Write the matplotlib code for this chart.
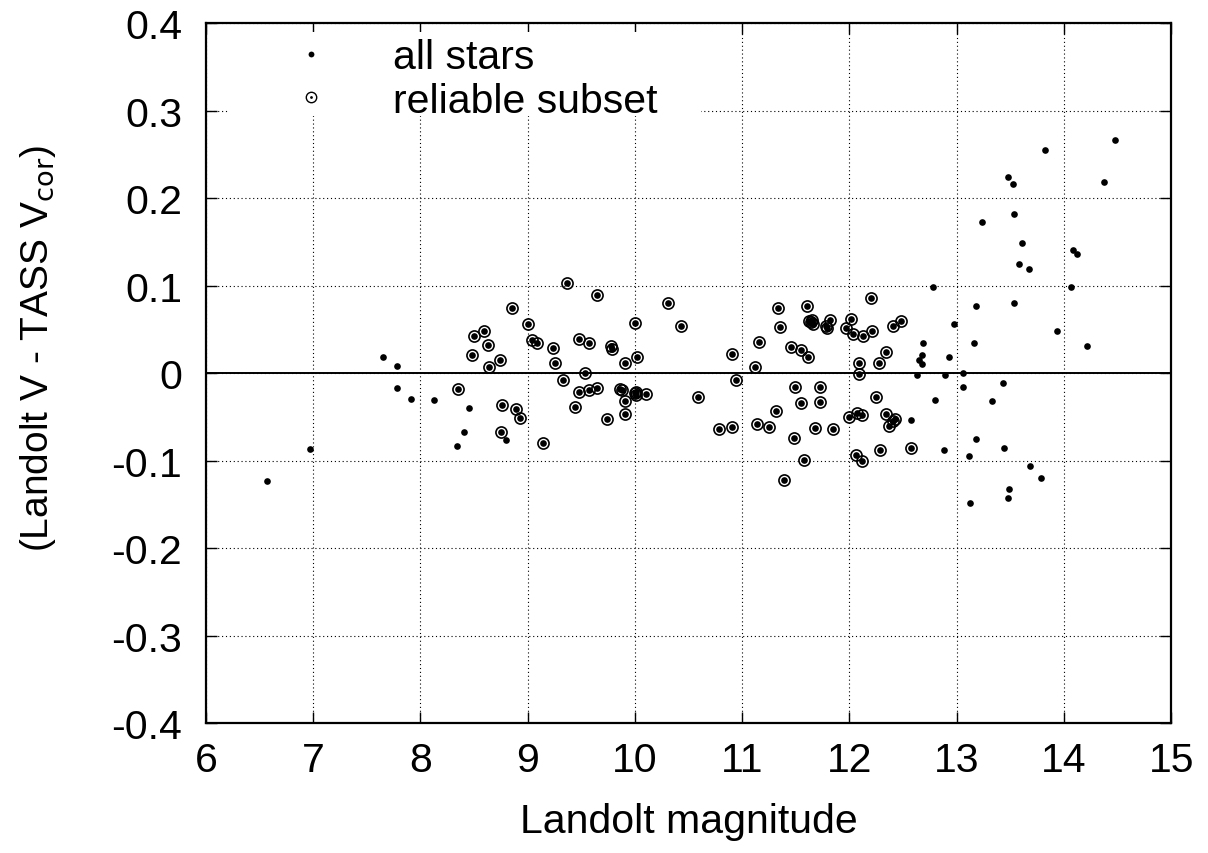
import numpy as np
import matplotlib
matplotlib.use('Agg')
from matplotlib import pyplot as plt
from matplotlib.lines import Line2D
from matplotlib.patches import Rectangle

# stars outside the reliable subset
other_mag = [6.566, 6.967, 7.654, 7.78, 7.78, 7.915, 8.124, 8.453, 8.407, 8.345,
             8.799, 12.574, 12.645, 12.63, 12.775, 12.69, 12.68, 12.68, 12.80,
             12.885, 12.894, 12.928, 12.971, 13.055, 13.055, 13.114, 13.124,
             13.161, 13.18, 13.183, 13.232, 13.329, 13.43, 13.441, 13.481,
             13.528, 13.484, 13.481, 13.537, 13.537, 13.609, 13.578, 13.674,
             13.687, 13.79, 13.82, 13.938, 14.063, 14.088, 14.119, 14.219,
             14.374, 14.48]
other_dv = [-0.123, -0.087, 0.019, 0.008, -0.017, -0.030, -0.031, -0.040, -0.067,
            -0.083, -0.076, -0.053, 0.015, -0.002, 0.098, 0.035, 0.021, 0.011,
            -0.031, -0.088, -0.002, 0.019, 0.056, 0.000, -0.016, -0.095, -0.148,
            0.034, 0.077, -0.075, 0.173, -0.032, -0.011, -0.086, 0.224, 0.216,
            -0.132, -0.143, 0.182, 0.080, 0.149, 0.125, 0.119, -0.106, -0.120,
            0.255, 0.048, 0.098, 0.141, 0.136, 0.031, 0.219, 0.267]

# reliable subset
rel_mag = [8.348, 8.478, 8.50, 8.596, 8.634, 8.64, 8.743, 8.758, 8.889, 8.929,
           8.75, 8.857, 9.00, 9.04, 9.085, 9.144, 9.24, 9.259, 9.33, 9.365,
           9.442, 9.482, 9.482, 9.538, 9.57, 9.576, 9.65, 9.65, 9.741, 9.78,
           9.787, 9.865, 9.878, 9.906, 9.906, 9.909, 10.005, 10.023, 10.0,
           10.007, 10.014, 10.107, 10.307, 10.434, 10.592, 10.788, 10.904,
           10.907, 10.938, 11.121, 11.137, 11.159, 11.249, 11.311, 11.333,
           11.352, 11.386, 11.451, 11.479, 11.492, 11.55, 11.553, 11.575,
           11.604, 11.618, 11.622, 11.644, 11.665, 11.65, 11.675, 11.721,
           11.73, 11.777, 11.79, 11.815, 11.846, 11.97, 12.014, 12.033,
           11.992, 12.07, 12.063, 12.09, 12.09, 12.122, 12.206, 12.197,
           12.405, 12.483, 12.278, 12.34, 12.247, 12.12, 12.343, 12.427,
           12.41, 12.368, 12.287, 12.577, 12.117]
rel_dv = [-0.018, 0.021, 0.042, 0.048, 0.032, 0.007, 0.015, -0.036, -0.041,
          -0.051, -0.067, 0.075, 0.056, 0.038, 0.034, -0.080, 0.029, 0.012,
          -0.008, 0.103, -0.039, 0.039, -0.021, 0.000, 0.035, -0.019, 0.089,
          -0.017, -0.052, 0.031, 0.028, -0.018, -0.019, 0.012, -0.032, -0.047,
          0.057, 0.019, -0.023, -0.025, -0.022, -0.024, 0.080, 0.054, -0.027,
          -0.064, -0.062, 0.022, -0.008, 0.007, -0.058, 0.036, -0.061, -0.043,
          0.075, 0.053, -0.122, 0.030, -0.074, -0.016, 0.026, -0.034, -0.099,
          0.077, 0.018, 0.060, 0.058, 0.056, 0.061, -0.063, -0.033, -0.016,
          0.054, 0.052, 0.061, -0.064, 0.052, 0.062, 0.045, -0.050, -0.045,
          -0.094, 0.012, -0.001, 0.043, 0.048, 0.086, 0.054, 0.060, 0.012,
          0.024, -0.027, -0.048, -0.047, -0.052, -0.055, -0.060, -0.088,
          -0.085, -0.100]

all_mag = other_mag + rel_mag
all_dv = other_dv + rel_dv

xticks = list(range(6, 16))
yticks = [-0.4, -0.3, -0.2, -0.1, 0, 0.1, 0.2, 0.3, 0.4]
yticklabels = ['-0.4', '-0.3', '-0.2', '-0.1', '0', '0.1', '0.2', '0.3', '0.4']

plt.rcParams['font.family'] = ['Liberation Sans', 'DejaVu Sans']

fig = plt.figure(figsize=(12.08, 8.54), dpi=100)
ax = fig.add_axes([0.1705, 0.152, 0.799, 0.8197])

ax.axhline(0, color='black', lw=1.4, zorder=2)
ax.plot(all_mag, all_dv, 'o', color='black', ms=4.8, mew=0, zorder=3)
ax.plot(rel_mag, rel_dv, 'o', mfc='none', mec='black', ms=8, mew=1.2, zorder=3)

ax.set_xlim(6, 15)
ax.set_ylim(-0.4, 0.4)
ax.set_xticks(xticks)
ax.set_yticks(yticks)
ax.set_yticklabels(yticklabels)
ax.grid(True, linestyle=(0, (1, 2.5)), color='black', lw=0.8, zorder=0)
ax.set_axisbelow(True)
ax.tick_params(direction='in', length=8, width=1.0, top=True, right=True,
               labelsize=29.5)
ax.tick_params(axis='x', pad=13)
ax.tick_params(axis='y', pad=17)
for s in ax.spines.values():
    s.set_linewidth(1.6)

ax.set_xlabel('Landolt magnitude', fontsize=29.5)
ax.xaxis.set_label_coords(0.5, -0.112)
ax.set_ylabel('(Landolt V - TASS V$_{\\rm cor}$)', fontsize=28)
ax.yaxis.set_label_coords(-0.153, 0.536)

# blank area behind the key, like the original
ax.add_patch(Rectangle((0.023, 0.867), 0.49, 0.12, transform=ax.transAxes,
                       facecolor='white', edgecolor='none', zorder=1))

h_all = Line2D([], [], ls='none', marker='o', color='black', ms=4.2, mew=0)
h_ring = Line2D([], [], ls='none', marker='o', mfc='none', mec='black', ms=7.5, mew=1)
h_dot = Line2D([], [], ls='none', marker='o', color='black', ms=2, mew=0)
leg = ax.legend([h_all, (h_ring, h_dot)], ['all stars', 'reliable subset'],
                loc='upper left', bbox_to_anchor=(0.083, 0.99), fontsize=29.5,
                frameon=False, handlelength=0.8, handletextpad=1.6,
                labelspacing=0.13, borderpad=0.2, borderaxespad=0.0)
leg.set_zorder(5)

plt.savefig('out.png', dpi=100)
